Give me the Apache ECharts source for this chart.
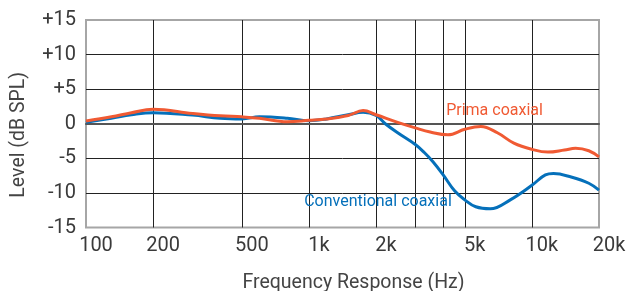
<!DOCTYPE html>
<html>
<head>
<meta charset="utf-8">
<title>Frequency Response</title>
<script src="https://cdn.jsdelivr.net/npm/echarts@6/dist/echarts.min.js"></script>
<style>
  html, body { margin: 0; padding: 0; background: #fff; }
  #main { width: 627px; height: 291px; }
</style>
</head>
<body>
<div id="main"></div>
<script>
// frequency (Hz) / level (dB SPL)
const convFreq = [100, 130, 160, 200, 300, 400, 500, 600, 800, 1000, 1200, 1500, 1750, 2000, 2200, 2500, 3000, 3300, 3600, 4000, 4500, 5000, 5600, 6500, 8000, 10000, 11500, 12500, 15000, 18000, 20000];
const convLevel = [0.2, 0.8, 1.3, 1.6, 1.25, 0.8, 0.7, 1.0, 0.8, 0.45, 0.7, 1.3, 1.65, 1.2, 0.0, -1.3, -3.0, -4.2, -5.5, -7.4, -9.7, -11.0, -12.0, -12.3, -11.0, -8.9, -7.4, -7.2, -7.7, -8.6, -9.6];

const primaFreq = [100, 130, 160, 200, 300, 400, 500, 600, 800, 1000, 1200, 1500, 1750, 2000, 2500, 3000, 3500, 4200, 5000, 5900, 7000, 8300, 10000, 11800, 14000, 15700, 18000, 20000];
const primaLevel = [0.4, 1.0, 1.6, 2.1, 1.5, 1.15, 1.0, 0.8, 0.3, 0.5, 0.7, 1.2, 1.9, 1.3, 0.2, -0.6, -1.2, -1.6, -0.8, -0.4, -1.3, -2.8, -3.7, -4.1, -3.8, -3.55, -3.9, -4.8];

// axis ticks / labels
const gridFreqs = [100, 200, 500, 1000, 2000, 3000, 4000, 5000, 10000, 20000];
const labelFreqs = [100, 200, 500, 1000, 2000, 5000, 10000, 20000];

// where the curve names sit (freq, dB)
const primaNameAt = [6800, 1.85];
const convNameAt = [2040, -11.3];

const ORANGE = '#f05a33';
const BLUE = '#0570ba';

function pairs(xs, ys) {
  return xs.map((x, i) => [x, ys[i]]);
}

const chart = echarts.init(document.getElementById('main'));

const option = {
  animation: false,
  textStyle: { fontFamily: 'Roboto' },
  grid: {
    left: 86,
    right: 28,
    top: 20,
    bottom: 63.5,
    outerBoundsMode: 'none',
    show: true,
    borderColor: '#a6a6a6',
    borderWidth: 2
  },
  xAxis: {
    type: 'log',
    logBase: 10,
    min: 100,
    max: 20000,
    name: 'Frequency Response (Hz)',
    nameLocation: 'middle',
    nameGap: 46,
    nameTextStyle: { fontSize: 19.5, color: '#444', padding: [0, 0, 0, 22] },
    axisLine: { show: true, lineStyle: { color: '#555', width: 2 } },
    axisTick: { show: false, customValues: gridFreqs },
    axisLabel: {
      customValues: labelFreqs,
      fontSize: 20,
      color: '#3a3a3a',
      margin: 8,
      padding: [0, 0, 0, 20],
      formatter: v => (v >= 1000 ? v / 1000 + 'k' : String(v))
    },
    splitLine: {
      show: true,
      showMinLine: false,
      showMaxLine: false,
      lineStyle: { color: '#222', width: 1 }
    }
  },
  yAxis: {
    type: 'value',
    min: -15,
    max: 15,
    interval: 5,
    name: 'Level (dB SPL)',
    nameLocation: 'middle',
    nameGap: 57,
    nameTextStyle: { fontSize: 19.5, color: '#444', padding: [0, 22, 0, 0] },
    axisLine: { show: false },
    axisTick: { show: false },
    axisLabel: {
      fontSize: 20,
      color: '#3a3a3a',
      margin: 10,
      formatter: v => (v > 0 ? '+' + v : String(v))
    },
    splitLine: {
      show: true,
      showMinLine: false,
      showMaxLine: false,
      lineStyle: { color: '#222', width: 1 }
    }
  },
  series: [
    {
      name: 'Conventional coaxial',
      type: 'line',
      data: pairs(convFreq, convLevel),
      smooth: 0.4,
      showSymbol: false,
      lineStyle: { color: BLUE, width: 3 },
      itemStyle: { color: BLUE },
      markPoint: {
        symbol: 'circle',
        symbolSize: 1,
        itemStyle: { color: 'rgba(0,0,0,0)' },
        label: {
          show: true,
          position: 'inside',
          formatter: 'Conventional coaxial',
          color: BLUE,
          fontSize: 16
        },
        data: [{ coord: convNameAt }]
      }
    },
    {
      name: 'Prima coaxial',
      type: 'line',
      data: pairs(primaFreq, primaLevel),
      smooth: 0.4,
      showSymbol: false,
      lineStyle: { color: ORANGE, width: 3 },
      itemStyle: { color: ORANGE },
      markPoint: {
        symbol: 'circle',
        symbolSize: 1,
        itemStyle: { color: 'rgba(0,0,0,0)' },
        label: {
          show: true,
          position: 'inside',
          formatter: 'Prima coaxial',
          color: ORANGE,
          fontSize: 16
        },
        data: [{ coord: primaNameAt }]
      }
    }
  ]
};

chart.setOption(option);
</script>
</body>
</html>
